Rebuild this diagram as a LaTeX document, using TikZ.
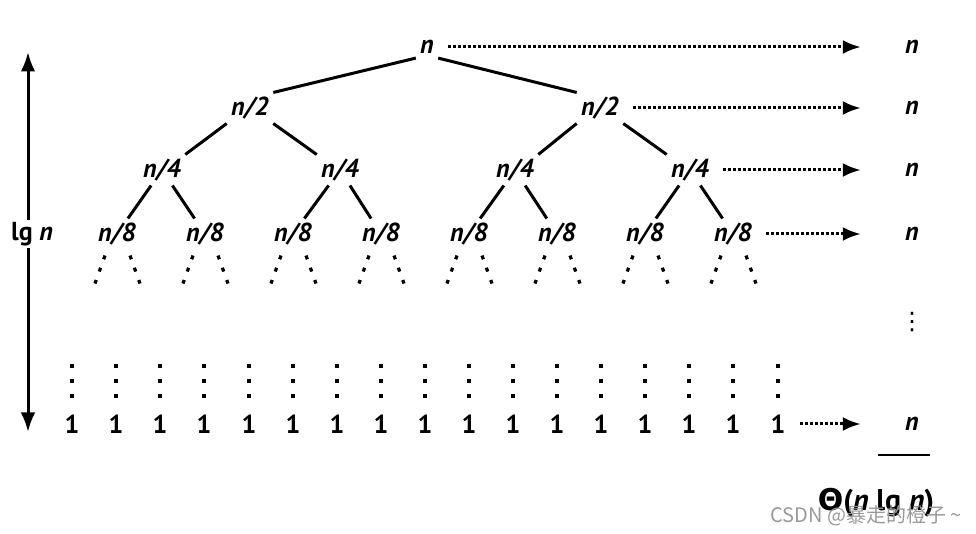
\documentclass[tikz,border=0pt]{standalone}
\usepackage{fontspec}
\setmainfont{PT Sans}
\newfontfamily\cjkfont{Noto Sans CJK SC}
\newfontfamily\symfont{DejaVu Sans}
\usetikzlibrary{arrows.meta,positioning}

\begin{document}
\begin{tikzpicture}[x=0.5pt,y=-0.5pt,>=Latex,
  lbl/.style={inner sep=2pt,font=\fontsize{13}{15}\selectfont\bfseries\itshape},
  leaf/.style={inner sep=2pt,font=\fontsize{13}{15}\selectfont\bfseries},
  edge/.style={line width=1.5pt},
  stub/.style={line width=1.6pt,dash pattern=on 2pt off 4.5pt},
  col/.style={line width=1.6pt,dash pattern=on 2pt off 5.5pt},
  cost/.style={densely dotted,line width=1.5pt,-{Latex[length=9pt,width=7pt]},shorten <=5pt,shorten >=20pt}]
\useasboundingbox (0,0) rectangle (976,534);
% tree
\node[lbl] (r) at (427,47) {n};
\node[lbl] (a0) at (250,108) {n/2};
\node[lbl] (a1) at (600,108) {n/2};
\node[lbl] (b0) at (162,170) {n/4};
\node[lbl] (b1) at (340,170) {n/4};
\node[lbl] (b2) at (515,170) {n/4};
\node[lbl] (b3) at (690,170) {n/4};
\node[lbl] (c0) at (117,234) {n/8};
\node[lbl] (c1) at (205,234) {n/8};
\node[lbl] (c2) at (293,234) {n/8};
\node[lbl] (c3) at (381,234) {n/8};
\node[lbl] (c4) at (469,234) {n/8};
\node[lbl] (c5) at (557,234) {n/8};
\node[lbl] (c6) at (645,234) {n/8};
\node[lbl] (c7) at (733,234) {n/8};
\draw[edge] (r.south west) -- (a0.north east);
\draw[edge] (r.south east) -- (a1.north west);
\draw[edge] (a0.south west) -- (b0.north east);
\draw[edge] (a0.south east) -- (b1.north west);
\draw[edge] (a1.south west) -- (b2.north east);
\draw[edge] (a1.south east) -- (b3.north west);
\draw[edge] (b0) -- (c0);
\draw[edge] (b0) -- (c1);
\draw[edge] (b1) -- (c2);
\draw[edge] (b1) -- (c3);
\draw[edge] (b2) -- (c4);
\draw[edge] (b2) -- (c5);
\draw[edge] (b3) -- (c6);
\draw[edge] (b3) -- (c7);
% dotted stubs below n/8
\draw[stub] ([xshift=-6pt,yshift=-3pt]c0.south) -- ++(-10,28);
\draw[stub] ([xshift=6.5pt,yshift=-3pt]c0.south) -- ++(10,28);
\draw[stub] ([xshift=-6pt,yshift=-3pt]c1.south) -- ++(-10,28);
\draw[stub] ([xshift=6.5pt,yshift=-3pt]c1.south) -- ++(10,28);
\draw[stub] ([xshift=-6pt,yshift=-3pt]c2.south) -- ++(-10,28);
\draw[stub] ([xshift=6.5pt,yshift=-3pt]c2.south) -- ++(10,28);
\draw[stub] ([xshift=-6pt,yshift=-3pt]c3.south) -- ++(-10,28);
\draw[stub] ([xshift=6.5pt,yshift=-3pt]c3.south) -- ++(10,28);
\draw[stub] ([xshift=-6pt,yshift=-3pt]c4.south) -- ++(-10,28);
\draw[stub] ([xshift=6.5pt,yshift=-3pt]c4.south) -- ++(10,28);
\draw[stub] ([xshift=-6pt,yshift=-3pt]c5.south) -- ++(-10,28);
\draw[stub] ([xshift=6.5pt,yshift=-3pt]c5.south) -- ++(10,28);
\draw[stub] ([xshift=-6pt,yshift=-3pt]c6.south) -- ++(-10,28);
\draw[stub] ([xshift=6.5pt,yshift=-3pt]c6.south) -- ++(10,28);
\draw[stub] ([xshift=-6pt,yshift=-3pt]c7.south) -- ++(-10,28);
\draw[stub] ([xshift=6.5pt,yshift=-3pt]c7.south) -- ++(10,28);
% leaves
\node[leaf] (l0) at (72,424) {1};
\node[leaf] (l1) at (116,424) {1};
\node[leaf] (l2) at (160,424) {1};
\node[leaf] (l3) at (204,424) {1};
\node[leaf] (l4) at (249,424) {1};
\node[leaf] (l5) at (293,424) {1};
\node[leaf] (l6) at (337,424) {1};
\node[leaf] (l7) at (381,424) {1};
\node[leaf] (l8) at (425,424) {1};
\node[leaf] (l9) at (469,424) {1};
\node[leaf] (l10) at (513,424) {1};
\node[leaf] (l11) at (557,424) {1};
\node[leaf] (l12) at (601,424) {1};
\node[leaf] (l13) at (645,424) {1};
\node[leaf] (l14) at (689,424) {1};
\node[leaf] (l15) at (733,424) {1};
\node[leaf] (l16) at (778,424) {1};
\draw[col] ([yshift=6pt]l0.north) -- ++(0,-34);
\draw[col] ([yshift=6pt]l1.north) -- ++(0,-34);
\draw[col] ([yshift=6pt]l2.north) -- ++(0,-34);
\draw[col] ([yshift=6pt]l3.north) -- ++(0,-34);
\draw[col] ([yshift=6pt]l4.north) -- ++(0,-34);
\draw[col] ([yshift=6pt]l5.north) -- ++(0,-34);
\draw[col] ([yshift=6pt]l6.north) -- ++(0,-34);
\draw[col] ([yshift=6pt]l7.north) -- ++(0,-34);
\draw[col] ([yshift=6pt]l8.north) -- ++(0,-34);
\draw[col] ([yshift=6pt]l9.north) -- ++(0,-34);
\draw[col] ([yshift=6pt]l10.north) -- ++(0,-34);
\draw[col] ([yshift=6pt]l11.north) -- ++(0,-34);
\draw[col] ([yshift=6pt]l12.north) -- ++(0,-34);
\draw[col] ([yshift=6pt]l13.north) -- ++(0,-34);
\draw[col] ([yshift=6pt]l14.north) -- ++(0,-34);
\draw[col] ([yshift=6pt]l15.north) -- ++(0,-34);
\draw[col] ([yshift=6pt]l16.north) -- ++(0,-34);
% per-level costs
\node[lbl] (q0) at (912,47) {n};
\node[lbl] (q1) at (912,108) {n};
\node[lbl] (q2) at (912,170) {n};
\node[lbl] (q3) at (912,234) {n};
\node[lbl] (q4) at (912,424) {n};
\node[font=\symfont\fontsize{12}{14}\selectfont] (vq) at (912,322) {⋮};
\draw[cost] (r.east) -- (q0.west);
\draw[cost] (a1.east) -- (q1.west);
\draw[cost] (b3.east) -- (q2.west);
\draw[cost] (c7.east) -- (q3.west);
\draw[cost] (l16.east) -- (q4.west);
\draw[line width=1.4pt] (878,455) -- (930,455);
\node[font=\fontsize{15}{17}\selectfont\bfseries] (tot) at (876,503) {{\symfont Θ}(\textit{n} lg \textit{n})};
\node[text=gray!80,font=\cjkfont\fontsize{10}{12}\selectfont] (wm) at (866,516) {CSDN @暴走的橙子 \textasciitilde};
% height
\coordinate (top) at (28,52);
\coordinate (bot) at (28,432);
\draw[<->,line width=1.5pt] (top) -- (bot);
\node[fill=white,inner sep=1pt,font=\fontsize{13}{15}\selectfont\bfseries] (lgn) at (32,234) {lg \textit{n}};
\end{tikzpicture}
\end{document}
